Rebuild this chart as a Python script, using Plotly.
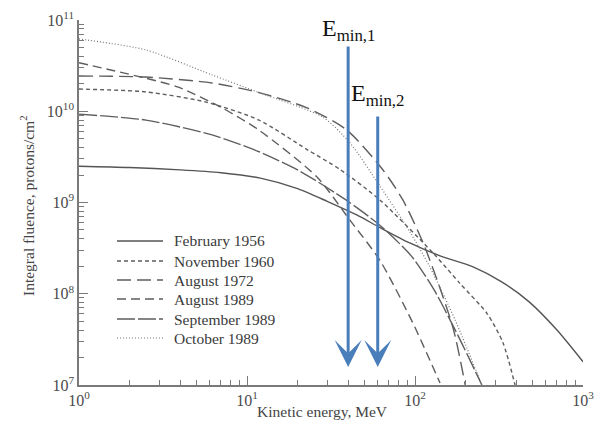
import math
import plotly.graph_objects as go

# ---- data (energy MeV, integral fluence protons/cm^2) ----
feb1956_e = [1, 2, 4, 7, 12, 20, 30, 45, 62, 93, 141, 220, 330, 480, 700, 1000]
feb1956_f = [2.5e9, 2.42e9, 2.28e9, 2.12e9, 1.85e9, 1.42e9, 1.03e9, 7.3e8, 5.3e8, 3.6e8,
             2.6e8, 1.98e8, 1.34e8, 8.1e7, 4.0e7, 1.8e7]

nov1960_e = [1, 2.5, 5.7, 11.8, 22.8, 35.8, 62, 128, 185, 268, 334, 394]
nov1960_f = [1.75e10, 1.63e10, 1.26e10, 8.0e9, 3.8e9, 2.3e9, 1.06e9, 2.8e8, 1.3e8, 6.1e7, 2.9e7, 1.0e7]

aug1972_e = [1, 2.5, 6.2, 11.8, 22.8, 39.4, 64.5, 84.8, 114, 168, 199]
aug1972_f = [2.43e10, 2.37e10, 2.04e10, 1.6e10, 1.09e10, 6.2e9, 2.27e9, 1.06e9, 3.3e8, 4.3e7, 1.0e7]

aug1989_e = [1, 2.5, 3.9, 7.1, 11.8, 26.1, 41, 62, 97, 141]
aug1989_f = [3.4e10, 2.3e10, 1.84e10, 1.09e10, 6.2e9, 1.9e9, 6.4e8, 2.3e8, 4.8e7, 1.05e7]

sep1989_e = [1, 2.5, 6.2, 11.8, 20.7, 39, 62, 95, 130, 180, 250]
sep1989_f = [9.3e9, 8.0e9, 5.5e9, 3.6e9, 2.2e9, 1.06e9, 5.6e8, 2.6e8, 1.1e8, 3.5e7, 1.0e7]

oct1989_e = [1, 2.5, 6.2, 11.8, 28.3, 41, 62, 93, 122, 173, 250]
oct1989_f = [6.2e10, 4.7e10, 2.5e10, 1.6e10, 8.6e9, 4.5e9, 1.5e9, 4.8e8, 2.0e8, 5.2e7, 1.0e7]

series_names = ["February 1956", "November 1960", "August 1972",
                "August 1989", "September 1989", "October 1989"]

emin_values = [40, 60]
emin_labels = ["E<sub>min,1</sub>", "E<sub>min,2</sub>"]

x_ticks = [1, 10, 100, 1000]
x_ticktext = ["10<sup>0</sup>", "10<sup>1</sup>", "10<sup>2</sup>", "10<sup>3</sup>"]
y_ticks = [1e7, 1e8, 1e9, 1e10, 1e11]
y_ticktext = ["10<sup>7</sup>", "10<sup>8</sup>", "10<sup>9</sup>", "10<sup>10</sup>", "10<sup>11</sup>"]

x_title = "Kinetic energy, MeV"
y_title = "Integral fluence, protons/cm<sup>2</sup>"

# ---- styling ----
SERIF = "Liberation Serif"
GRAY = "#5e5e5e"
styles = [
    dict(dash="solid", width=1.4, color="#555555"),
    dict(dash="4px,3px", width=1.4, color=GRAY),
    dict(dash="14px,6px", width=1.4, color=GRAY),
    dict(dash="9px,5px", width=1.4, color=GRAY),
    dict(dash="18px,3px", width=1.4, color=GRAY),
    dict(dash="1px,2px", width=1.2, color="#777777"),
]
all_e = [feb1956_e, nov1960_e, aug1972_e, aug1989_e, sep1989_e, oct1989_e]
all_f = [feb1956_f, nov1960_f, aug1972_f, aug1989_f, sep1989_f, oct1989_f]

# plot area geometry (px) used only for placing decorations
L, R, T, B = 79, 16, 20, 48
W, H = 599, 433
PW, PH = W - L - R, H - T - B

def px2paper(px, py):
    return (px - L) / PW, 1 - (py - T) / PH

fig = go.Figure()
for name, e, f, st in zip(series_names, all_e, all_f, styles):
    fig.add_trace(go.Scatter(x=e, y=f, mode="lines", name=name, showlegend=False,
                             line=dict(shape="spline", smoothing=0.7, **st)))

# custom legend (line samples + labels)
legend_rows = [241, 261, 280, 299, 319, 338]
for name, st, ry in zip(series_names, styles, legend_rows):
    x0, y0 = px2paper(117, ry)
    x1, _ = px2paper(163, ry)
    fig.add_shape(type="line", xref="paper", yref="paper", x0=x0, x1=x1, y0=y0, y1=y0,
                  line=dict(color=st["color"], width=st["width"], dash=st["dash"]))
    tx, _ = px2paper(172, ry)
    fig.add_annotation(xref="paper", yref="paper", x=tx, y=y0, text=name, showarrow=False,
                       xanchor="left", yanchor="middle",
                       font=dict(family=SERIF, size=15.5, color="#3a3a3a"))

ARROW = "#4a7ebb"
arrow_tops = [45, 115]   # pixel y of arrow tails
tip_py = 367
for val, top in zip(emin_values, arrow_tops):
    tip_y = 11 - (tip_py - T) / PH * 4
    fig.add_annotation(x=math.log10(val), y=tip_y, xref="x", yref="y",
                       ax=0, ay=-(tip_py - top), axref="pixel", ayref="pixel",
                       text="", showarrow=True, arrowhead=3, arrowsize=1.5,
                       arrowwidth=3, arrowcolor=ARROW)

label_py = [30, 95]
for val, lab, py in zip(emin_values, emin_labels, label_py):
    fig.add_annotation(x=math.log10(val), y=11 - (py - T) / PH * 4,
                       xref="x", yref="y", text=lab, showarrow=False,
                       font=dict(family=SERIF, size=24, color="#111"))

# axis titles
xt, yt = px2paper(322, 411)
fig.add_annotation(xref="paper", yref="paper", x=xt, y=yt, text=x_title, showarrow=False,
                   xanchor="center", yanchor="middle",
                   font=dict(family=SERIF, size=15.5, color="#444"))
xt, yt = px2paper(27, 206)
fig.add_annotation(xref="paper", yref="paper", x=xt, y=yt, text=y_title, showarrow=False,
                   xanchor="center", yanchor="middle", textangle=-90,
                   font=dict(family=SERIF, size=15.5, color="#444"))

axis_common = dict(type="log", showgrid=False, zeroline=False, showline=True,
                   linecolor="#7a7a7a", linewidth=1.5, ticks="inside", ticklen=9,
                   tickwidth=1.2, tickcolor="#7a7a7a", mirror=False, automargin=False,
                   tickfont=dict(family=SERIF, size=16, color="#4a4a4a"))

minor_x = [m * 10 ** d for d in range(0, 3) for m in range(2, 10)]
minor_y = [m * 10 ** d for d in range(7, 11) for m in range(2, 10)]

fig.update_xaxes(**axis_common, range=[0, 3], tickvals=x_ticks, ticktext=x_ticktext,
                 minor=dict(tickmode="array", tickvals=minor_x, ticks="inside", ticklen=5,
                            tickwidth=1, tickcolor="#7a7a7a"))
fig.update_yaxes(**axis_common, range=[7, 11], tickvals=y_ticks, ticktext=y_ticktext,
                 minor=dict(tickmode="array", tickvals=minor_y, ticks="inside", ticklen=5,
                            tickwidth=1, tickcolor="#7a7a7a"))

fig.update_layout(
    width=W, height=H,
    margin=dict(l=L, r=R, t=T, b=B),
    plot_bgcolor="white", paper_bgcolor="white",
    showlegend=False,
)

fig.write_html("out.html")
